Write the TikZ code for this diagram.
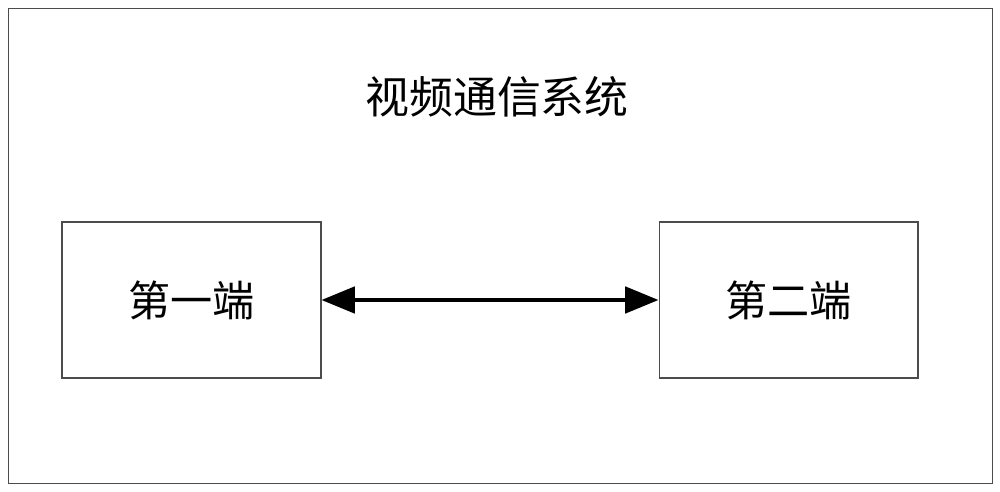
\documentclass[tikz,border=0pt]{standalone}
\usepackage{fontspec}
\newfontfamily\cjk{Noto Sans CJK SC}
\usetikzlibrary{arrows.meta,positioning}
\begin{document}
\begin{tikzpicture}[x=0.02cm,y=-0.02cm,
  endbox/.style={draw=black!70, line width=0.6pt, minimum width=5.18cm,
                 minimum height=3.12cm, font=\cjk\fontsize{24}{28}\selectfont},
  link/.style={{Triangle[length=19pt,width=15pt]}-{Triangle[length=19pt,width=15pt]}, line width=2.2pt},
]
  \useasboundingbox (0,0) rectangle (1000,492);
  % outer frame
  \node[draw=black!70, line width=0.6pt, minimum width=19.7cm, minimum height=9.52cm,
        inner sep=0pt] (system) at (500.5,246) {};
  \node[font=\cjk\fontsize{25}{30}\selectfont] (title) at (497,97) {视频通信系统};
  % terminals
  \node[endbox] (first) at (191.5,300) {第一端};
  \node[endbox] (second) at (788.5,300) {第二端};
  \draw[link] (first.east) -- (second.west);
\end{tikzpicture}
\end{document}
